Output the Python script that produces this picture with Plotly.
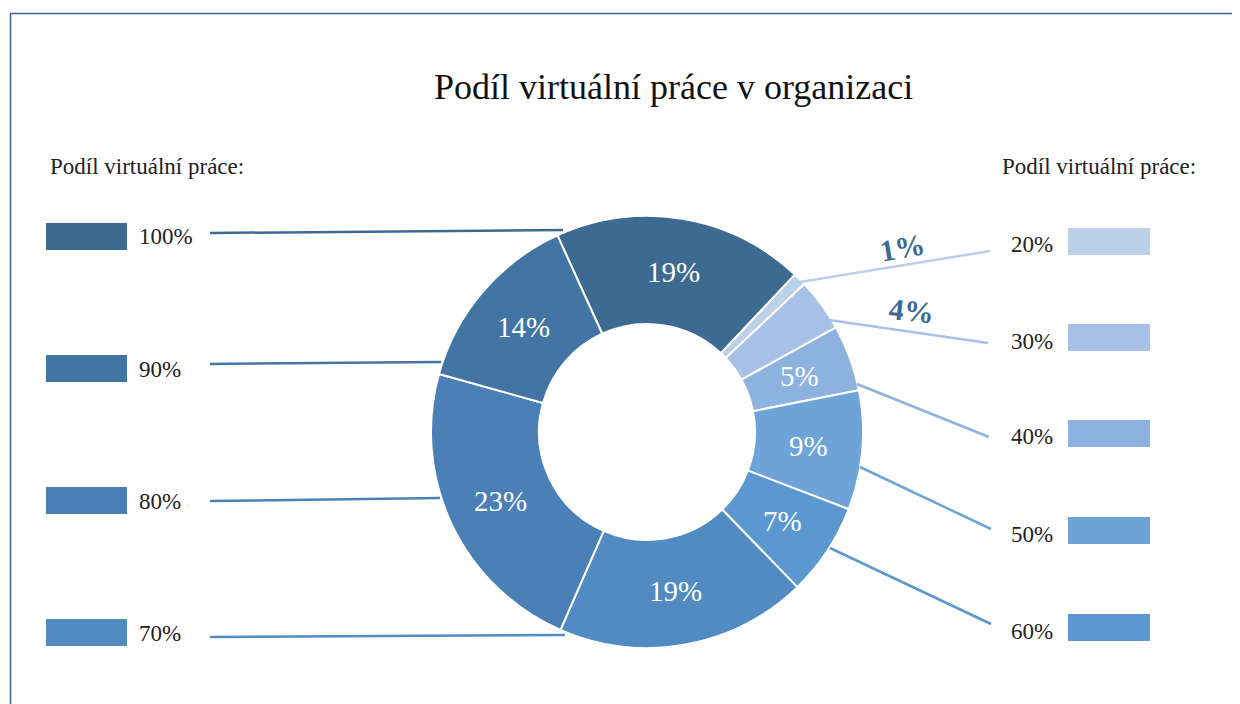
import math
import plotly.graph_objects as go

# ---- data ----
categories = ["100%", "20%", "30%", "40%", "50%", "60%", "70%", "80%", "90%"]
shares = [19, 1, 4, 5, 9, 7, 19, 23, 14]
colors = ["#3d6a91", "#bdd0ea", "#a7c2e6", "#8db2df", "#6ea3d8",
          "#5a98cf", "#528bc2", "#4a80b5", "#4375a4"]
left_legend = ["100%", "90%", "80%", "70%"]
right_legend = ["20%", "30%", "40%", "50%", "60%"]
outside_labels = ["20%", "30%"]

title = "Podíl virtuální práce v organizaci"
legend_title = "Podíl virtuální práce:"

OFF = 8  # page body margin offset
W, H = 1240 + OFF, 704 + OFF
SERIF = "Liberation Serif, Times New Roman, serif"

def px(x):
    return (x - OFF) / W

def py(y):
    return 1 - (y - OFF) / H

cx, cy, R, hole = 647, 432, 216, 0.5
rotation = -24.5

fig = go.Figure()
fig.add_trace(go.Pie(
    labels=categories, values=shares, sort=False, direction="clockwise",
    rotation=rotation, hole=hole, textinfo="none",
    marker=dict(colors=colors, line=dict(color="white", width=2)),
    domain=dict(x=[px(cx - R), px(cx + R)], y=[py(cy + R), py(cy - R)]),
    showlegend=False, hoverinfo="label+value",
))

annotations = []
shapes = []

# slice labels computed from data angles
total = sum(shares)
start = rotation
rmid = R * (1 + hole) / 2
for cat, v in zip(categories, shares):
    span = v / total * 360
    mid = math.radians(start + span / 2)
    start += span
    if cat in outside_labels:
        continue
    x = cx + rmid * math.sin(mid)
    y = cy - rmid * math.cos(mid)
    annotations.append(dict(x=px(x), y=py(y), xref="paper", yref="paper",
                            text=f"{v}%", showarrow=False,
                            font=dict(family=SERIF, size=29, color="white"),
                            xanchor="center", yanchor="middle"))

# outside bold labels for small slices
out_pos = {"20%": (902, 248, -10), "30%": (911, 310, 6)}
for cat, v in zip(categories, shares):
    if cat in out_pos:
        x, y, a = out_pos[cat]
        annotations.append(dict(x=px(x), y=py(y), xref="paper", yref="paper",
                                text=f"<b>{v}%</b>", showarrow=False, textangle=a,
                                font=dict(family=SERIF, size=30, color="#3d6a93"),
                                xanchor="center", yanchor="middle"))

color_of = dict(zip(categories, colors))

# left legend
left_rows = [237, 369, 501, 633]
left_lines = [((210, 233), (563, 230)), ((210, 364), (441, 362)),
              ((210, 501), (440, 498)), ((210, 637), (565, 635))]
for cat, yc, ln in zip(left_legend, left_rows, left_lines):
    c = color_of[cat]
    shapes.append(dict(type="rect", xref="paper", yref="paper",
                       x0=px(46), x1=px(127), y0=py(yc - 14), y1=py(yc + 13),
                       fillcolor=c, line=dict(width=0)))
    annotations.append(dict(x=px(137), y=py(yc), xref="paper", yref="paper",
                            text=cat, showarrow=False, xanchor="left", yanchor="middle",
                            font=dict(family=SERIF, size=23, color="#222222")))
    (x0, y0), (x1, y1) = ln
    shapes.append(dict(type="line", xref="paper", yref="paper",
                       x0=px(x0), y0=py(y0), x1=px(x1), y1=py(y1),
                       line=dict(color=c, width=2.5)))

# right legend
right_rows = [242, 338, 434, 531, 628]
right_lines = [((800, 282), (990, 251)), ((829, 320), (988, 343)),
               ((857, 384), (989, 437)), ((860, 467), (991, 529)),
               ((830, 548), (991, 624))]
for cat, yc, ln in zip(right_legend, right_rows, right_lines):
    c = color_of[cat]
    shapes.append(dict(type="rect", xref="paper", yref="paper",
                       x0=px(1068), x1=px(1150), y0=py(yc - 14), y1=py(yc + 13),
                       fillcolor=c, line=dict(width=0)))
    annotations.append(dict(x=px(1055), y=py(yc + 3), xref="paper", yref="paper",
                            text=cat, showarrow=False, xanchor="right", yanchor="middle",
                            font=dict(family=SERIF, size=23, color="#222222")))
    (x0, y0), (x1, y1) = ln
    shapes.append(dict(type="line", xref="paper", yref="paper",
                       x0=px(x0), y0=py(y0), x1=px(x1), y1=py(y1),
                       line=dict(color=c, width=2.5)))

# legend titles
annotations.append(dict(x=px(48), y=py(167), xref="paper", yref="paper",
                        text=legend_title, showarrow=False, xanchor="left", yanchor="middle",
                        font=dict(family=SERIF, size=23, color="#222222")))
annotations.append(dict(x=px(1198), y=py(167), xref="paper", yref="paper",
                        text=legend_title, showarrow=False, xanchor="right", yanchor="middle",
                        font=dict(family=SERIF, size=23, color="#222222")))

# title
annotations.append(dict(x=px(673), y=py(87), xref="paper", yref="paper",
                        text=title, showarrow=False, xanchor="center", yanchor="middle",
                        font=dict(family=SERIF, size=36, color="#111111")))

# frame
shapes.append(dict(type="line", xref="paper", yref="paper",
                   x0=px(10), x1=1, y0=py(13.5), y1=py(13.5),
                   line=dict(color="#3e6292", width=1.5)))
shapes.append(dict(type="line", xref="paper", yref="paper",
                   x0=px(10.5), x1=px(10.5), y0=py(13), y1=0,
                   line=dict(color="#3e6292", width=1.5)))

fig.update_layout(width=W, height=H, margin=dict(l=0, r=0, t=0, b=0),
                  paper_bgcolor="white", plot_bgcolor="white",
                  annotations=annotations, shapes=shapes)

fig.write_html("out.html")
